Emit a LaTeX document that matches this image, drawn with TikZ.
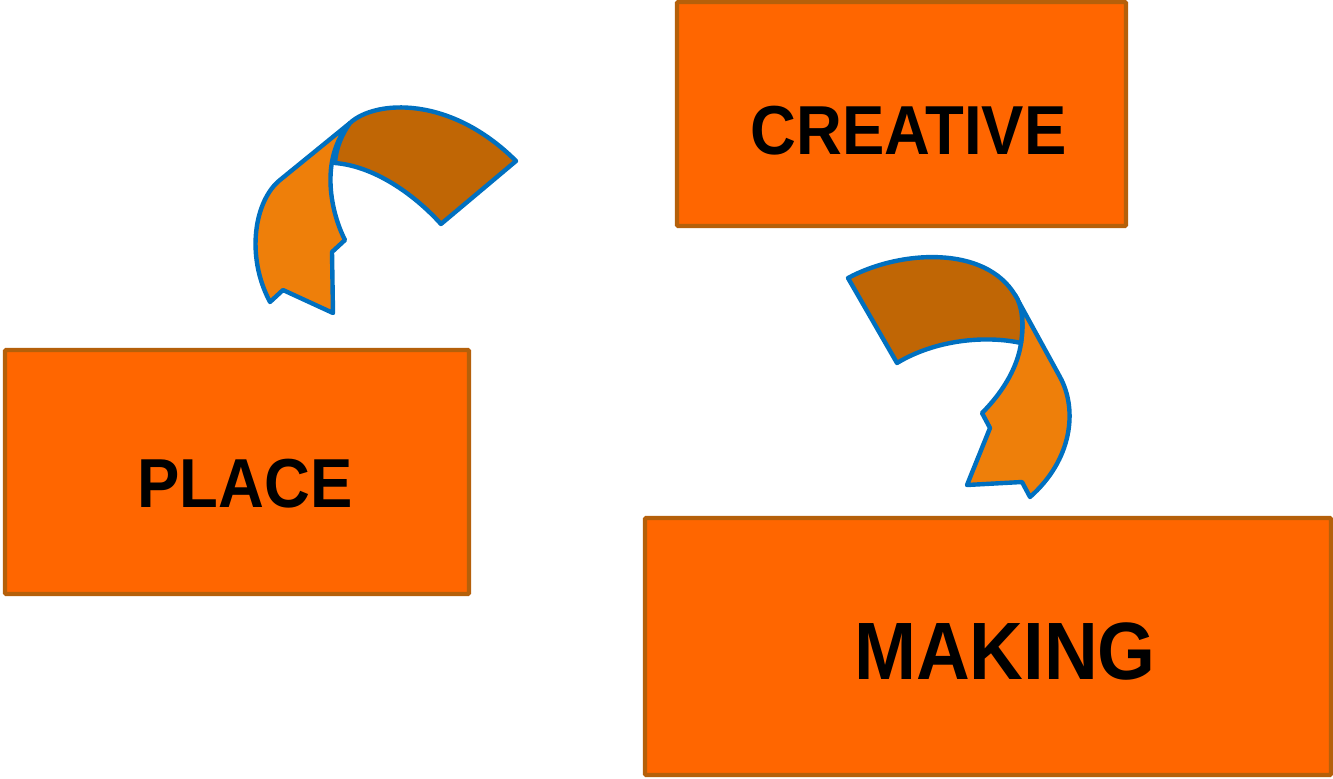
\documentclass[tikz,border=0pt]{standalone}
\usepackage{fontspec}
\newfontfamily\lblfont{Liberation Sans}[FakeStretch=0.915]
\definecolor{boxfill}{HTML}{FF6600}
\definecolor{boxedge}{HTML}{B5600A}
\definecolor{bandlight}{HTML}{EE7F0A}
\definecolor{banddark}{HTML}{C06605}
\definecolor{bandedge}{HTML}{0070C0}
\begin{document}
\begin{tikzpicture}[x=0.75pt,y=-0.75pt,
  box/.style={draw=boxedge,fill=boxfill,line width=3.3pt,rounded corners=1pt,inner sep=0pt},
  lbl/.style={font=\lblfont\bfseries,text=black,inner sep=0pt},
  band/.style={draw=bandedge,line width=3.3pt,line join=round}]
\useasboundingbox (0,0) rectangle (1333,778);

% labelled boxes
\node[box,minimum width={449*0.75pt},minimum height={224*0.75pt}] (creative) at (901.5,114) {};
\node[box,minimum width={464*0.75pt},minimum height={244*0.75pt}] (place) at (237,472) {};
\node[box,minimum width={686*0.75pt},minimum height={257*0.75pt}] (making) at (988,646.5) {};
\node[lbl,font=\lblfont\bfseries\fontsize{52pt}{52pt}\selectfont] (tcreative) at ([shift={(7,17)}]creative.center) {CREATIVE};
\node[lbl,font=\lblfont\bfseries\fontsize{52pt}{52pt}\selectfont] (tplace) at ([shift={(8,12)}]place.center) {PLACE};
\node[lbl,font=\lblfont\bfseries\fontsize{61pt}{61pt}\selectfont] (tmaking) at ([shift={(17,5)}]making.center) {MAKING};

% curved arrow from PLACE towards CREATIVE
\draw[band,fill=bandlight] (350,123) -- (280,180)
  .. controls (255,200) and (245,255) .. (270,302)
  -- (283,290) -- (333,313) -- (332,252) -- (345,240)
  .. controls (332,215) and (318,160) .. (350,123) -- cycle;
\draw[band,fill=banddark] (350,123)
  .. controls (375,100) and (450,95) .. (516,161)
  -- (441,224)
  .. controls (413,193) and (373,166) .. (335,163)
  .. controls (336,148) and (342,134) .. (350,123) -- cycle;

% curved arrow from CREATIVE towards MAKING
\draw[band,fill=bandlight] (1015,295) -- (1060,377)
  .. controls (1078,410) and (1072,460) .. (1030,497)
  -- (1022,482) -- (967,485) -- (990,428) -- (982,413)
  .. controls (1005,390) and (1018,365) .. (1021,343)
  .. controls (1024,322) and (1022,305) .. (1015,295) -- cycle;
\draw[band,fill=banddark] (848,278)
  .. controls (900,250) and (985,245) .. (1015,295)
  .. controls (1022,305) and (1024,322) .. (1021,343)
  .. controls (985,335) and (935,340) .. (897,363) -- cycle;
\end{tikzpicture}
\end{document}
